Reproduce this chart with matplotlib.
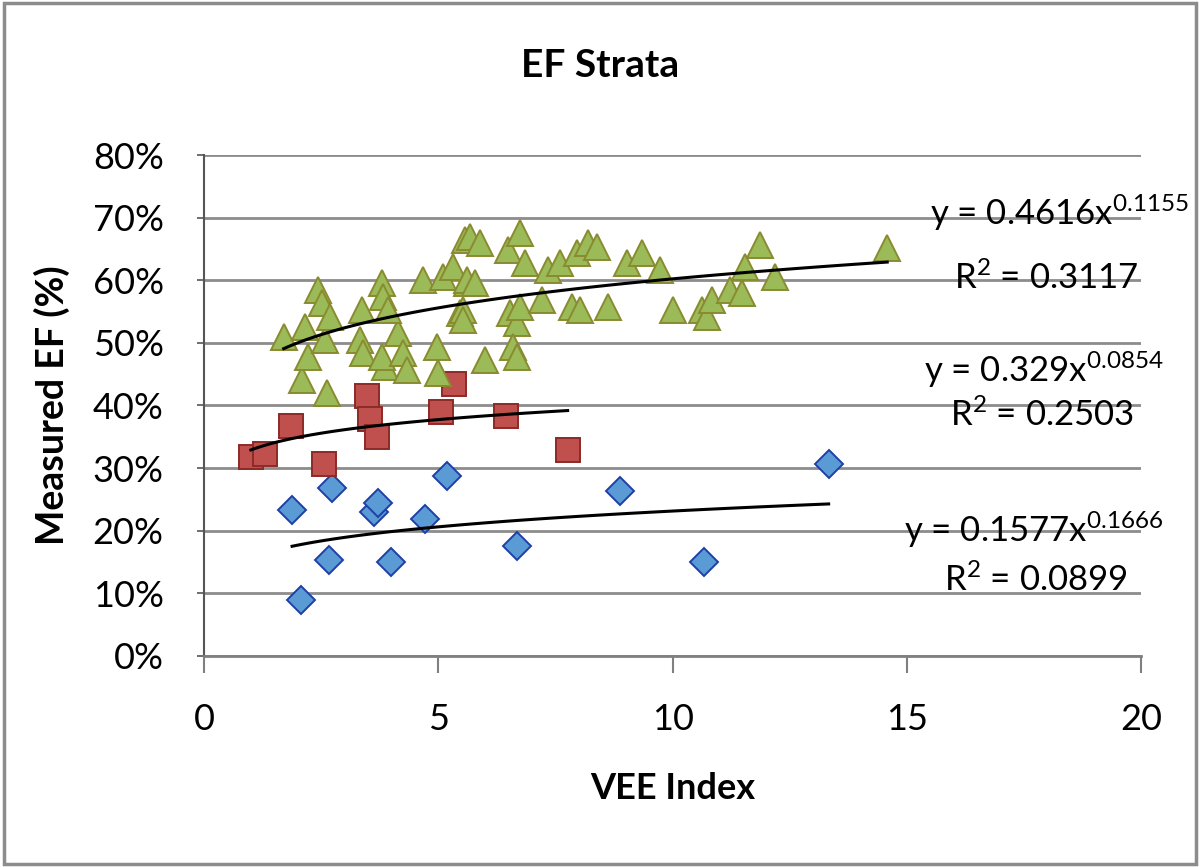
import matplotlib
matplotlib.use("Agg")
import matplotlib.pyplot as plt
import numpy as np
from matplotlib.patches import Rectangle

plt.rcParams['font.family'] = ['Lato', 'DejaVu Sans']
plt.rcParams['mathtext.default'] = 'regular'

# ---- data (VEE index, measured EF in %) ----
low_x = [1.88, 2.07, 2.74, 2.67, 3.62, 3.72, 4.0, 4.72, 5.19, 6.69, 8.87, 10.68, 13.33]
low_y = [23.3, 9.0, 26.8, 15.4, 23.0, 24.4, 15.0, 21.8, 28.7, 17.5, 26.3, 15.0, 30.6]

mid_x = [1.0, 1.3, 1.86, 2.56, 3.48, 3.55, 3.7, 5.06, 5.34, 6.45, 7.76]
mid_y = [31.8, 32.3, 36.7, 30.6, 41.5, 37.8, 34.9, 38.9, 43.5, 38.3, 32.9]

high_x = [1.7, 2.09, 2.16, 2.22, 2.43, 2.52, 2.58, 2.69, 2.62, 3.37, 3.33, 3.39,
          3.8, 3.82, 3.86, 3.8, 4.14, 4.25, 4.33, 3.93, 4.67, 4.97, 5.0, 5.1,
          5.31, 5.46, 5.57, 5.61, 5.68, 5.89, 5.61, 5.78, 5.53, 5.53, 6.0, 6.49,
          6.74, 6.85, 6.53, 6.68, 6.6, 6.68, 6.74, 7.21, 7.34, 7.6, 7.85, 8.03,
          7.96, 8.2, 8.39, 8.62, 9.03, 9.35, 9.73, 10.01, 10.63, 10.74, 10.84,
          11.23, 11.48, 11.55, 11.87, 12.19, 14.58]
high_y = [51.0, 44.1, 52.6, 47.8, 58.5, 56.4, 50.5, 54.2, 42.0, 55.3, 50.5, 48.4,
          59.6, 57.3, 46.2, 47.8, 51.6, 48.4, 45.7, 55.3, 60.1, 49.4, 45.2, 60.5,
          62.1, 54.8, 66.5, 59.6, 66.9, 66.0, 60.1, 59.6, 55.3, 53.7, 47.3, 64.9,
          67.6, 62.8, 54.8, 53.2, 49.4, 47.8, 55.8, 56.9, 61.7, 62.8, 55.8, 55.3,
          64.4, 66.0, 65.3, 55.8, 62.8, 64.4, 61.7, 55.3, 55.3, 54.2, 56.9,
          58.5, 58.0, 62.1, 65.7, 60.5, 65.2]

# power trendline coefficients as printed on the chart
fit_a = [0.1577, 0.329, 0.4616]
fit_b = [0.1666, 0.0854, 0.1155]
fit_r2 = ['0.0899', '0.2503', '0.3117']

fig = plt.figure(figsize=(12, 8.67), dpi=100)
ax = fig.add_axes([0.17, 0.2434, 0.781, 0.5778])

series = [
    (low_x, low_y, 'D', '#5b9bd5', '#1f3fa8', 14),
    (mid_x, mid_y, 's', '#c0504d', '#8c2a27', 17),
    (high_x, high_y, '^', '#9bbb59', '#8a8a30', 19),
]
for i, (xs, ys, mk, fc, ec, ms) in enumerate(series):
    ax.plot(xs, np.array(ys) / 100, linestyle='none', marker=mk, markersize=ms,
            markerfacecolor=fc, markeredgecolor=ec, markeredgewidth=1.4, zorder=3)
    xx = np.linspace(min(xs), max(xs), 100)
    ax.plot(xx, fit_a[i] * xx ** fit_b[i], color='black', lw=2.2, zorder=4)

ax.set_xlim(0, 20)
ax.set_ylim(0, 0.8)
ax.set_xticks([0, 5, 10, 15, 20])
ax.set_yticks(np.arange(0, 0.81, 0.1))
ax.set_yticklabels([f'{int(round(v * 100))}%' for v in np.arange(0, 0.81, 0.1)])
ax.yaxis.grid(True, color='#8c8c8c', lw=2)
ax.set_axisbelow(True)
for s in ['top', 'right']:
    ax.spines[s].set_visible(False)
ax.spines['left'].set_color('#555555')
ax.spines['bottom'].set_color('#808080')
ax.spines['left'].set_linewidth(1.5)
ax.spines['bottom'].set_linewidth(2)
ax.tick_params(axis='y', length=5, width=1.2, color='#555555', labelsize=26, pad=24)
ax.tick_params(axis='x', length=12, width=1.5, color='#808080', labelsize=26, pad=22)

ax.set_ylabel('Measured EF (%)', fontsize=27, fontweight='bold', labelpad=16)
ax.set_xlabel('VEE Index', fontsize=26, fontweight='bold', labelpad=26)
fig.text(0.5, 0.925, 'EF Strata', ha='center', va='center', fontsize=28, fontweight='bold')

# equation labels
eq_pos = [(1034, 530, 1036, 580), (1044, 370, 1042, 415), (1060, 213, 1046, 278)]
for i in range(3):
    ex, ey, rx, ry = eq_pos[i]
    a_txt = f'{fit_a[i]:g}'
    fig.text(ex / 1200, 1 - ey / 867, f'y = {a_txt}x$^{{{fit_b[i]:.4f}}}$',
             ha='center', va='center', fontsize=25)
    fig.text(rx / 1200, 1 - ry / 867, f'R$^{{2}}$ = {fit_r2[i]}',
             ha='center', va='center', fontsize=25)

fig.patches.append(Rectangle((0.003, 0.003), 0.994, 0.994, transform=fig.transFigure,
                             fill=False, edgecolor='#8c8c8c', lw=2.5))

fig.savefig('out.png', dpi=100)
